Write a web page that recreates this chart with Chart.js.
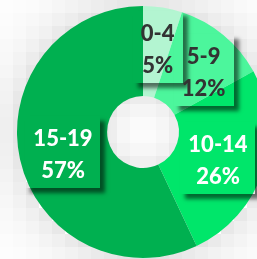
<!DOCTYPE html>
<html>
<head>
<meta charset="utf-8">
<script src="https://cdn.jsdelivr.net/npm/chart.js@4"></script>
<style>
  html, body { margin: 0; padding: 0; background: #fff; }
  #wrap { width: 257px; height: 259px; overflow: hidden; position: relative; }
  #c { position: absolute; left: 0; top: 0; }
</style>
</head>
<body>
<div id="wrap"><canvas id="c" width="290" height="259"></canvas></div>
<script>
const categories = ["0-4", "5-9", "10-14", "15-19"];
const values = [5, 12, 26, 57];
const percentLabels = ["5%", "12%", "26%", "57%"];
const colors = ["#b3f5d1", "#4cf69c", "#00e66a", "#00b050"];
const textColors = ["#333333", "#333333", "#ffffff", "#ffffff"];

const mosaicBg = {
  id: 'mosaicBg',
  beforeDraw(chart) {
    const ctx = chart.ctx;
    const arc = chart.getDatasetMeta(0).data[0];
    if (!arc) return;
    const cx = arc.x, cy = arc.y, R = arc.outerRadius, r = arc.innerRadius;
    const B = 13;
    ctx.save();
    ctx.fillStyle = '#ffffff';
    ctx.fillRect(0, 0, chart.width, chart.height);
    for (let y = 0; y < chart.height; y += B) {
      for (let x = 0; x < chart.width; x += B) {
        const d = Math.hypot(x + B / 2 - cx, y + B / 2 - cy);
        let g = 255;
        if (d > R - 6) g = 255 - 32 * Math.exp(-(d - R + 6) / 24);
        else if (d < r + 6) g = 255 - 28 * Math.exp(-(r + 6 - d) / 18);
        g = Math.round(Math.max(0, Math.min(255, g)));
        ctx.fillStyle = `rgb(${g},${g},${g})`;
        ctx.fillRect(x, y, B, B);
      }
    }
    ctx.restore();
  }
};

const nudges = [[2, -2], [9, 3], [-2, 4], [-1, 5]];

const labelBoxes = {
  id: 'labelBoxes',
  afterDatasetsDraw(chart) {
    const ctx = chart.ctx;
    const meta = chart.getDatasetMeta(0);
    ctx.save();
    ctx.font = '900 22px Lato, "Open Sans", sans-serif';
    ctx.textAlign = 'center';
    ctx.textBaseline = 'middle';
    const boxes = meta.data.map((el, i) => {
      const p = el.getCenterPoint();
      const tx = p.x + nudges[i][0], ty = p.y + nudges[i][1];
      const w = Math.round(Math.max(ctx.measureText(categories[i]).width, ctx.measureText(percentLabels[i]).width) + 16);
      const h = 72;
      return { tx, ty, x: Math.round(tx - w / 2), y: Math.round(ty - 3 - h / 2), w, h };
    });
    const FAR = 2000;
    boxes.forEach(b => {
      ctx.save();
      ctx.beginPath();
      ctx.rect(-1000, -1000, 3000, 3000);
      ctx.rect(b.x, b.y, b.w, b.h);
      ctx.clip('evenodd');
      ctx.shadowColor = 'rgba(0,0,0,0.55)';
      ctx.shadowBlur = 4;
      ctx.shadowOffsetX = 5 + FAR;
      ctx.shadowOffsetY = 5;
      ctx.fillStyle = '#000';
      ctx.fillRect(b.x - FAR, b.y, b.w, b.h);
      ctx.restore();
    });
    boxes.forEach((b, i) => {
      ctx.fillStyle = textColors[i];
      ctx.fillText(categories[i], b.tx, b.ty - 16);
      ctx.fillText(percentLabels[i], b.tx, b.ty + 16);
    });
    ctx.restore();
  }
};

new Chart(document.getElementById('c'), {
  type: 'doughnut',
  data: {
    labels: categories,
    datasets: [{
      data: values,
      backgroundColor: colors,
      borderWidth: 0,
      hoverOffset: 0
    }]
  },
  options: {
    responsive: false,
    animation: false,
    cutout: '28.5%',
    layout: { padding: { left: 17, top: 6, right: 21, bottom: 1 } },
    plugins: {
      legend: { display: false },
      tooltip: { enabled: false }
    }
  },
  plugins: [mosaicBg, labelBoxes]
});
</script>
</body>
</html>
